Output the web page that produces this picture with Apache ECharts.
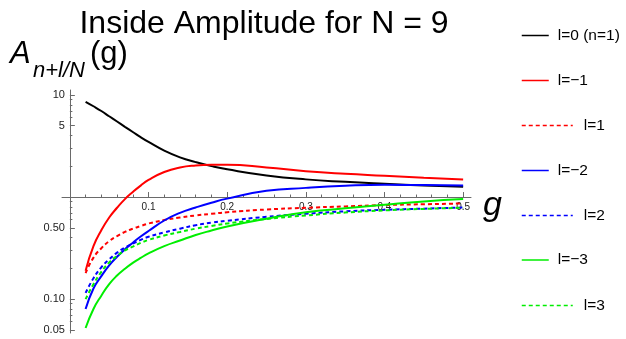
<!DOCTYPE html>
<html>
<head>
<meta charset="utf-8">
<script src="https://cdn.jsdelivr.net/npm/echarts@6/dist/echarts.min.js"></script>
<style>
  html, body { margin: 0; padding: 0; background: #ffffff; }
  #chart { width: 626px; height: 339px; }
</style>
</head>
<body>
<div id="chart"></div>
<script>
// Coupling g values at which the amplitudes are sampled
const gValues = [0.02, 0.03, 0.04, 0.05, 0.06, 0.07, 0.08, 0.09, 0.10, 0.12,
                 0.14, 0.16, 0.18, 0.20, 0.25, 0.30, 0.35, 0.40, 0.45, 0.50];

// Inside amplitude A_{n+l/N}(g) for N = 9, one array per l
const ampL0  = [8.59, 7.76, 6.97, 6.19, 5.50, 4.88, 4.34, 3.86, 3.47, 2.85,
                2.45, 2.20, 2.01, 1.87, 1.63, 1.49, 1.41, 1.35, 1.30, 1.26];
const ampLm1 = [0.19, 0.33, 0.473, 0.63, 0.785, 0.955, 1.12, 1.294, 1.47, 1.76,
                1.95, 2.04, 2.07, 2.07, 1.95, 1.79, 1.69, 1.62, 1.55, 1.49];
const ampL1  = [0.18, 0.255, 0.315, 0.37, 0.415, 0.455, 0.49, 0.52, 0.55, 0.595,
                0.63, 0.66, 0.685, 0.71, 0.755, 0.785, 0.81, 0.835, 0.85, 0.865];
const ampLm2 = [0.08, 0.127, 0.168, 0.214, 0.26, 0.308, 0.357, 0.41, 0.465, 0.589,
                0.70, 0.79, 0.88, 0.965, 1.15, 1.23, 1.29, 1.32, 1.31, 1.30];
const ampL2  = [0.115, 0.16, 0.205, 0.245, 0.285, 0.32, 0.35, 0.38, 0.408, 0.45,
                0.49, 0.53, 0.56, 0.585, 0.64, 0.685, 0.725, 0.75, 0.77, 0.79];
const ampLm3 = [0.052, 0.08, 0.108, 0.14, 0.17, 0.198, 0.226, 0.253, 0.28, 0.33,
                0.375, 0.425, 0.47, 0.515, 0.613, 0.71, 0.775, 0.84, 0.905, 0.955];
const ampL3  = [0.10, 0.14, 0.185, 0.228, 0.265, 0.30, 0.327, 0.355, 0.38, 0.42,
                0.455, 0.49, 0.52, 0.55, 0.61, 0.66, 0.705, 0.74, 0.765, 0.785];

// Series names (legend labels)
const seriesNames = ['l=0 (n=1)', 'l=\u22121', 'l=1', 'l=\u22122', 'l=2', 'l=\u22123', 'l=3'];

// Tick labels and tick marks
const xTickLabels = [0.1, 0.2, 0.3, 0.4, 0.5];
const xMinorTicks = [0.02, 0.04, 0.06, 0.08, 0.12, 0.14, 0.16, 0.18, 0.22, 0.24, 0.26, 0.28,
                     0.32, 0.34, 0.36, 0.38, 0.42, 0.44, 0.46, 0.48];
const yTickLabels = [0.05, 0.1, 0.5, 5, 10];
const yMajorTicks = [0.05, 0.1, 0.5, 1, 5, 10];
const yMinorTicks = [0.06, 0.07, 0.08, 0.09, 0.2, 0.3, 0.4, 0.6, 0.7, 0.8, 0.9,
                     2, 3, 4, 6, 7, 8, 9];

// Axis extents
const xRange = [-0.01, 0.51];
const yRange = [0.0465, 11.2];

const FONT = '"Liberation Sans", Arial, Helvetica, sans-serif';
const AXIS_GREY = '#6a6a6a';

// Styling per curve
const styles = [
  { color: '#000000', dotted: false },
  { color: '#ff0000', dotted: false },
  { color: '#ff0000', dotted: true },
  { color: '#0000ff', dotted: false },
  { color: '#0000ff', dotted: true },
  { color: '#00ee00', dotted: false },
  { color: '#00ee00', dotted: true }
];
const ampSets = [ampL0, ampLm1, ampL1, ampLm2, ampL2, ampLm3, ampL3];
const legendRowY = [35, 80, 125, 170, 215, 259.5, 305];

// The y axis is logarithmic: values are plotted as log10(A)
const lg = v => Math.log10(v);

const series = ampSets.map((amps, i) => ({
  type: 'line',
  name: seriesNames[i],
  xAxisIndex: 0,
  yAxisIndex: 0,
  symbol: 'none',
  smooth: 0.5,
  silent: true,
  data: gValues.map((g, k) => [g, lg(amps[k])]),
  lineStyle: {
    color: styles[i].color,
    width: 2,
    type: styles[i].dotted ? [4, 3] : 'solid'
  },
  itemStyle: { color: styles[i].color }
}));

// One legend block per curve so solid and dotted samples can differ in length
const legends = seriesNames.map((name, i) => ({
  data: [name],
  left: 521,
  top: legendRowY[i] - 7.5,
  padding: 0,
  itemWidth: styles[i].dotted ? 51 : 27,
  itemHeight: 14,
  selectedMode: false,
  itemStyle: { opacity: 0, borderWidth: 0 },
  lineStyle: { width: 1.5 },
  textStyle: {
    fontFamily: FONT, fontSize: 15.5, color: '#000',
    padding: [0, 0, 0, styles[i].dotted ? 6 : 4]
  }
}));

const fmtY = v => {
  const a = Math.pow(10, v);
  return a >= 1 ? String(Math.round(a)) : a.toFixed(2);
};

const GRID = { left: 62, right: 155, top: 90, bottom: 6 };

const option = {
  animation: false,
  backgroundColor: '#ffffff',
  grid: Object.assign({ containLabel: false, outerBoundsMode: 'none' }, GRID),
  xAxis: [
    {
      type: 'value', position: 'bottom', min: xRange[0], max: xRange[1], offset: 0,
      axisLine: { show: true, onZero: false, lineStyle: { color: AXIS_GREY, width: 1 } },
      axisTick: { show: true, inside: true, length: 5, customValues: xTickLabels, lineStyle: { color: AXIS_GREY } },
      axisLabel: { show: true, customValues: xTickLabels, margin: 5, fontFamily: FONT, fontSize: 10, color: '#222',
                   formatter: v => v.toFixed(1) },
      splitLine: { show: false }
    },
    {
      type: 'value', position: 'bottom', min: xRange[0], max: xRange[1], offset: 0,
      axisLine: { show: false, onZero: false },
      axisTick: { show: true, inside: true, length: 2.5, customValues: xMinorTicks, lineStyle: { color: AXIS_GREY } },
      axisLabel: { show: false },
      splitLine: { show: false }
    }
  ],
  yAxis: [
    {
      type: 'value', position: 'left', min: lg(yRange[0]), max: lg(yRange[1]), offset: 0,
      axisLine: { show: true, onZero: false, lineStyle: { color: AXIS_GREY, width: 1 } },
      axisTick: { show: true, inside: true, length: 5, customValues: yMajorTicks.map(lg), lineStyle: { color: AXIS_GREY } },
      axisLabel: { show: true, customValues: yTickLabels.map(lg), margin: 5, fontFamily: FONT, fontSize: 11, color: '#222',
                   formatter: fmtY },
      splitLine: { show: false }
    },
    {
      type: 'value', position: 'left', min: lg(yRange[0]), max: lg(yRange[1]), offset: 0,
      axisLine: { show: false, onZero: false },
      axisTick: { show: true, inside: true, length: 2.5, customValues: yMinorTicks.map(lg), lineStyle: { color: AXIS_GREY } },
      axisLabel: { show: false },
      splitLine: { show: false }
    }
  ],
  legend: legends,
  graphic: [
    { type: 'text', x: 264, y: 24,
      style: { text: 'Inside Amplitude for N = 9', font: '32px ' + FONT, fill: '#000', align: 'center', verticalAlign: 'middle' } },
    { type: 'text', x: 10, y: 54.5,
      style: { text: 'A', font: 'italic 31px ' + FONT, fill: '#000', align: 'left', verticalAlign: 'middle' } },
    { type: 'text', x: 33, y: 71,
      style: { text: 'n+l/N', font: 'italic 22px ' + FONT, fill: '#000', align: 'left', verticalAlign: 'middle' } },
    { type: 'text', x: 90, y: 54.5,
      style: { text: '(g)', font: '31px ' + FONT, fill: '#000', align: 'left', verticalAlign: 'middle' } },
    { type: 'text', x: 483, y: 206,
      style: { text: 'g', font: 'italic 34px ' + FONT, fill: '#000', align: 'left', verticalAlign: 'middle' } }
  ],
  series: series
};

const chart = echarts.init(document.getElementById('chart'));
chart.setOption(option);

// Axes cross at g = 0 and A = 1: shift each axis from the grid edge to that point
const zeroY = chart.convertToPixel({ yAxisIndex: 0 }, 0);
const zeroX = chart.convertToPixel({ xAxisIndex: 0 }, 0);
const gridBottomY = chart.getHeight() - GRID.bottom;
const xOff = zeroY - gridBottomY;
const yOff = GRID.left - zeroX;
chart.setOption({
  xAxis: [{ offset: xOff }, { offset: xOff }],
  yAxis: [{ offset: yOff }, { offset: yOff }]
});
</script>
</body>
</html>
